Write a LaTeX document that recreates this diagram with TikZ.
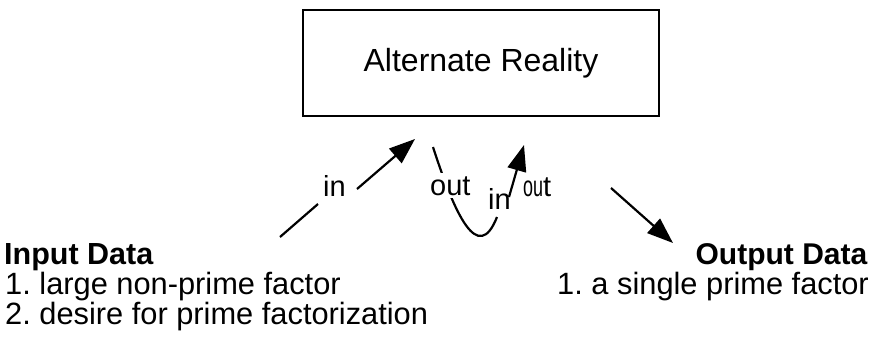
\documentclass[tikz,border=0pt]{standalone}
\usepackage{fontspec}
\setmainfont{Liberation Sans}
\usetikzlibrary{arrows.meta}
\frenchspacing
\begin{document}
\begin{tikzpicture}[x=1pt,y=-1pt,
  txt/.style={inner sep=0pt, font=\fontsize{30.8}{36}\selectfont},
  lbl/.style={inner sep=0pt, anchor=base west, font=\fontsize{29}{34}\selectfont},
  ln/.style={line width=2.2pt, line cap=butt},
  arr/.style={line width=2.2pt, -{Triangle[length=26pt,width=19pt]}},
  boxst/.style={draw, line width=1.8pt, minimum width=356pt, minimum height=106pt, inner sep=0pt,
    font=\fontsize{32}{38}\selectfont}]
\useasboundingbox (0,0) rectangle (878,346);

% central box
\node[boxst] (box) at (481,63) {Alternate Reality};

% input text
\node[txt, anchor=base west, font=\fontsize{30.5}{36}\selectfont\bfseries] (inhead) at (4,264.5) {Input Data};
\node[txt, anchor=base west] (inl1) at (5,294) {1. large non-prime factor};
\node[txt, anchor=base west] (inl2) at (5,324) {2. desire for prime factorization};

% output text
\node[txt, anchor=base east, font=\fontsize{30}{36}\selectfont\bfseries] (outhead) at (867.5,264.5) {Output Data};
\node[txt, anchor=base east] (outl1) at (869,294.5) {1. a single prime factor};

% left arrow with "in"
\coordinate (a1) at (280,237);
\coordinate (a2) at (318,204);
\coordinate (a3) at (357,189);
\coordinate (a4) at (415,139);
\node[lbl] (inA) at (323,196) {in};
\draw[ln] (a1) -- (a2);
\draw[arr] (a3) -- (a4);

% curved connector out -> in
\coordinate (c1) at (433,147);
\coordinate (c2) at (497,217);
\draw[ln] (c1) .. controls (455,215) and (478,265) .. (c2);
\node[lbl, fill=white, inner xsep=0pt, inner ysep=3pt] (outA) at (430,195) {out};
\node[lbl] (inB) at (488,209) {in};

% small arrow up into box
\coordinate (b1) at (509,197);
\coordinate (b2) at (524,145);
\draw[arr] (b1) -- (b2);
\node[lbl] (outB) at (523,196) {\scalebox{0.62}[1]{ou}t};

% right arrow
\coordinate (r1) at (611,188);
\coordinate (r2) at (673,243);
\draw[arr] (r1) -- (r2);
\end{tikzpicture}
\end{document}
